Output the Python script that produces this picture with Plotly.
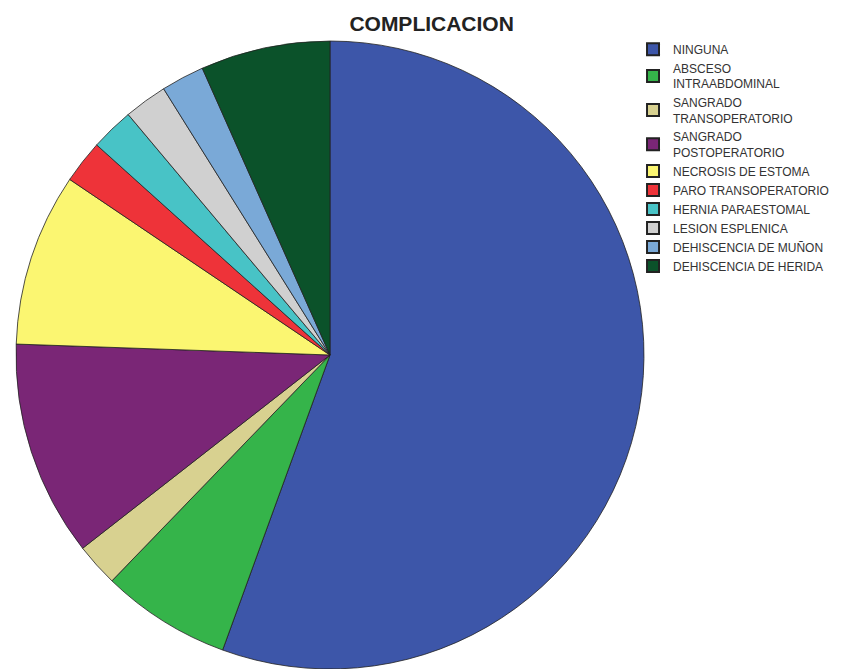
import plotly.graph_objects as go

# Complicaciones registradas (frecuencias)
categorias = [
    "NINGUNA",
    "ABSCESO<br>INTRAABDOMINAL",
    "SANGRADO<br>TRANSOPERATORIO",
    "SANGRADO<br>POSTOPERATORIO",
    "NECROSIS DE ESTOMA",
    "PARO TRANSOPERATORIO",
    "HERNIA PARAESTOMAL",
    "LESION ESPLENICA",
    "DEHISCENCIA DE MUÑON",
    "DEHISCENCIA DE HERIDA",
]
frecuencias = [25, 3, 1, 5, 4, 1, 1, 1, 1, 3]
colores = [
    "#3d56a9", "#35b44a", "#d8d190", "#7a2676", "#fbf671",
    "#ee3339", "#48c3c6", "#d0d0d0", "#7aa9d7", "#0b522a",
]

fig = go.Figure(
    go.Pie(
        labels=categorias,
        values=frecuencias,
        sort=False,
        direction="clockwise",
        rotation=0,
        marker=dict(colors=colores, line=dict(color="#222222", width=0.8)),
        textinfo="none",
        hoverinfo="label+value+percent",
        domain=dict(x=[0.0189, 0.7594], y=[0.0, 0.9387]),
    )
)

fig.update_layout(
    width=848,
    height=669,
    margin=dict(l=0, r=0, t=0, b=0),
    paper_bgcolor="white",
    plot_bgcolor="white",
    title=dict(
        text="<b>COMPLICACION</b>",
        x=0.509,
        xanchor="center",
        y=0.964,
        yanchor="middle",
        font=dict(family="Liberation Sans, Arial", size=21, color="#222222"),
    ),
    legend=dict(
        x=0.7465,
        y=0.948,
        xanchor="left",
        yanchor="top",
        font=dict(family="Liberation Sans, Arial", size=12, color="#333333"),
        itemsizing="constant",
        tracegroupgap=0,
        bgcolor="rgba(0,0,0,0)",
    ),
    showlegend=True,
)

fig.write_html("out.html")
